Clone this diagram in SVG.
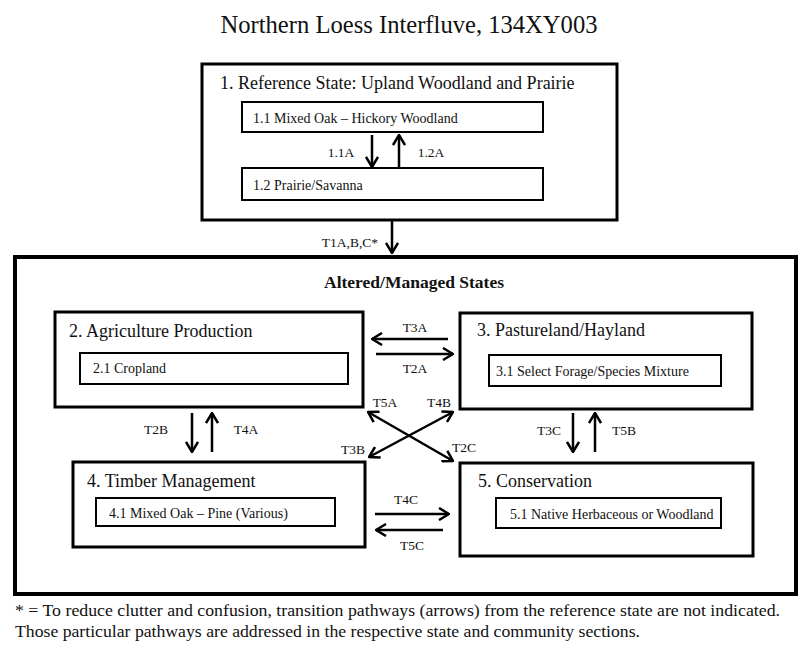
<svg xmlns="http://www.w3.org/2000/svg" width="800" height="652" viewBox="0 0 800 652" font-family="'Liberation Serif', 'Times New Roman', serif">
<style>
text{font-family:'Liberation Serif','Times New Roman',serif;fill:#111}
.title{font-size:24.6px}
.state{font-size:18px}
.comm{font-size:14px}
.lbl{font-size:13.5px}
.hdr{font-size:17.5px;font-weight:bold}
.foot{font-size:16px}
.outer{fill:none;stroke:#000;stroke-width:3}
.big{fill:none;stroke:#000;stroke-width:4}
.inner{fill:none;stroke:#000;stroke-width:2}
.arr{stroke:#000;stroke-width:2.5;fill:none;marker-end:url(#ah)}
.dbl{stroke:#000;stroke-width:2.5;fill:none;marker-end:url(#ah);marker-start:url(#ah)}
</style>
<defs>
<marker id="ah" viewBox="0 0 12 14" refX="11" refY="7" markerWidth="12" markerHeight="14" markerUnits="userSpaceOnUse" orient="auto-start-reverse">
<path d="M1,1 L11,7 L1,13" fill="none" stroke="#000" stroke-width="2.5"/>
</marker>
</defs>
<rect width="800" height="652" fill="#fff"/>
<text class="title" x="409" y="33" text-anchor="middle">Northern Loess Interfluve, 134XY003</text>

<g id="state1">
<rect class="outer" x="202" y="64" width="415" height="156"/>
<text class="state" x="220" y="89">1. Reference State: Upland Woodland and Prairie</text>
</g>
<g id="comm11">
<rect class="inner" x="242" y="102" width="301" height="30"/>
<text class="comm" x="253" y="123">1.1 Mixed Oak – Hickory Woodland</text>
</g>
<g id="comm12">
<rect class="inner" x="242" y="168" width="301" height="32"/>
<text class="comm" x="253" y="190">1.2 Prairie/Savanna</text>
</g>

<g id="altered">
<rect class="big" x="15" y="257" width="781" height="337"/>
<text class="hdr" x="414" y="288" text-anchor="middle">Altered/Managed States</text>
</g>

<g id="state2">
<rect class="outer" x="55" y="312" width="308" height="95"/>
<text class="state" x="69" y="337">2. Agriculture Production</text>
<rect class="inner" x="80" y="353" width="268" height="31"/>
<text class="comm" x="93" y="373">2.1 Cropland</text>
</g>

<g id="state3">
<rect class="outer" x="460" y="313" width="292" height="96"/>
<text class="state" x="477" y="336">3. Pastureland/Hayland</text>
<rect class="inner" x="489" y="355" width="232" height="31"/>
<text class="comm" x="496" y="376">3.1 Select Forage/Species Mixture</text>
</g>

<g id="state4">
<rect class="outer" x="73" y="462" width="292" height="85"/>
<text class="state" x="87" y="487">4. Timber Management</text>
<rect class="inner" x="96" y="498" width="239" height="28"/>
<text class="comm" x="109" y="518">4.1 Mixed Oak – Pine (Various)</text>
</g>

<g id="state5">
<rect class="outer" x="460" y="463" width="293" height="93"/>
<text class="state" x="478" y="487">5. Conservation</text>
<rect class="inner" x="496" y="498" width="225" height="30"/>
<text class="comm" x="510" y="519">5.1 Native Herbaceous or Woodland</text>
</g>

<g id="connectors">
<line class="arr" x1="372" y1="135" x2="372" y2="167"/>
<line class="arr" x1="399" y1="167" x2="399" y2="135"/>
<line class="arr" x1="392" y1="220" x2="392" y2="253"/>
<line class="arr" x1="448" y1="339" x2="372" y2="339"/>
<line class="arr" x1="376" y1="354" x2="453" y2="354"/>
<line class="dbl" x1="368" y1="412" x2="453" y2="461"/>
<line class="dbl" x1="369" y1="457" x2="453" y2="412"/>
<line class="arr" x1="192" y1="413" x2="192" y2="452"/>
<line class="arr" x1="212" y1="452" x2="212" y2="413"/>
<line class="arr" x1="573" y1="413" x2="573" y2="452"/>
<line class="arr" x1="595" y1="452" x2="595" y2="413"/>
<line class="arr" x1="375" y1="514" x2="449" y2="514"/>
<line class="arr" x1="443" y1="530" x2="376" y2="530"/>
<g id="labels">
<text class="lbl" x="341" y="157" text-anchor="middle">1.1A</text>
<text class="lbl" x="431" y="157" text-anchor="middle">1.2A</text>
<text class="lbl" x="350" y="247" text-anchor="middle">T1A,B,C*</text>
<text class="lbl" x="415" y="332" text-anchor="middle">T3A</text>
<text class="lbl" x="415" y="373" text-anchor="middle">T2A</text>
<text class="lbl" x="385" y="407" text-anchor="middle">T5A</text>
<text class="lbl" x="439" y="407" text-anchor="middle">T4B</text>
<text class="lbl" x="353" y="454" text-anchor="middle">T3B</text>
<text class="lbl" x="464" y="452" text-anchor="middle">T2C</text>
<text class="lbl" x="156" y="434" text-anchor="middle">T2B</text>
<text class="lbl" x="246" y="434" text-anchor="middle">T4A</text>
<text class="lbl" x="549" y="435" text-anchor="middle">T3C</text>
<text class="lbl" x="624" y="435" text-anchor="middle">T5B</text>
<text class="lbl" x="406" y="504" text-anchor="middle">T4C</text>
<text class="lbl" x="412" y="550" text-anchor="middle">T5C</text>
</g>
</g>

<text class="foot" x="15" y="616" textLength="765" lengthAdjust="spacingAndGlyphs">* = To reduce clutter and confusion, transition pathways (arrows) from the reference state are not indicated.</text>
<text class="foot" x="15" y="637" textLength="625" lengthAdjust="spacingAndGlyphs">Those particular pathways are addressed in the respective state and community sections.</text>
</svg>
